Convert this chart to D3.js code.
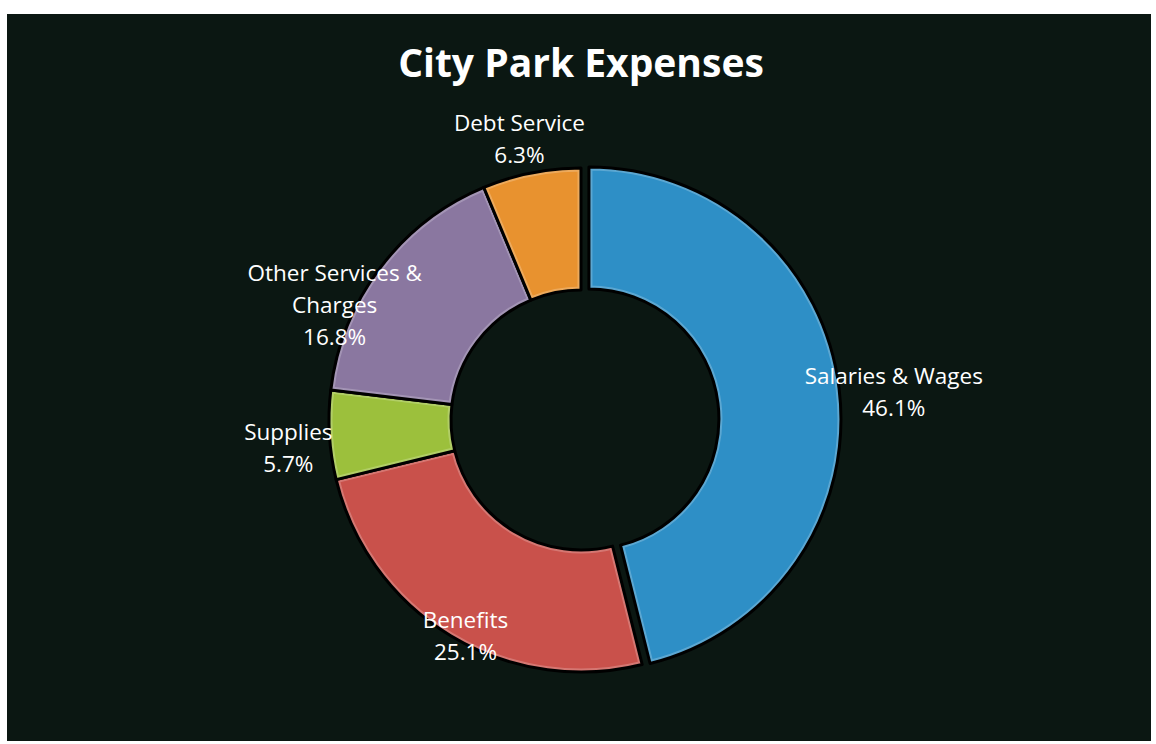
<!DOCTYPE html>
<html>
<head>
<meta charset="utf-8">
<script src="https://cdn.jsdelivr.net/npm/d3@7"></script>
<style>
  html, body { margin: 0; padding: 0; background: #ffffff; }
  svg { display: block; }
  text { font-family: "Open Sans", "Noto Sans", sans-serif; fill: #ffffff; }
</style>
</head>
<body>
<svg id="chart" width="1156" height="744"></svg>
<script>
// Chart data
const categories = ["Salaries & Wages", "Benefits", "Supplies", "Other Services & Charges", "Debt Service"];
const shares = [46.1, 25.1, 5.7, 16.8, 6.3];
const sliceColors = ["#2e8fc6", "#c9514b", "#9cc03c", "#8a77a0", "#e8922f"];
// label line breaks as they appear in the chart
const labelLines = [
  ["Salaries & Wages"],
  ["Benefits"],
  ["Supplies"],
  ["Other Services &", "Charges"],
  ["Debt Service"]
];

const width = 1156, height = 744;
const cx = 581, cy = 420;
const outerR = 252, innerR = 130;

const svg = d3.select("#chart");

// dark card background
svg.append("rect")
  .attr("x", 7).attr("y", 14)
  .attr("width", 1144).attr("height", 727)
  .attr("fill", "#0b1712");

// Title
svg.append("text")
  .attr("x", cx)
  .attr("y", 77)
  .attr("text-anchor", "middle")
  .style("font-size", "39px")
  .style("font-weight", "700")
  .text("City Park Expenses");

const pie = d3.pie().sort(null).value((d) => d.value);
const arcs = pie(categories.map((c, i) => ({ name: c, value: shares[i], i })));

const arc = d3.arc().innerRadius(innerR).outerRadius(outerR);

const g = svg.append("g").attr("transform", `translate(${cx},${cy})`);

// exploded first slice
function explode(d) {
  if (d.index !== 0) return [0, 0];
  const a = (d.startAngle + d.endAngle) / 2;
  return [Math.sin(a) * 8, -Math.cos(a) * 8];
}

const defs = svg.append("defs");

const slice = g.selectAll(".slice")
  .data(arcs)
  .join("g")
  .attr("class", "slice")
  .attr("transform", (d) => `translate(${explode(d)})`);

slice.each(function (d) {
  defs.append("clipPath")
    .attr("id", "clip" + d.index)
    .append("path")
    .attr("d", arc(d));
});

slice.append("path")
  .attr("d", arc)
  .attr("fill", (d) => sliceColors[d.index]);

// soft bevel highlight along the edges
slice.append("path")
  .attr("d", arc)
  .attr("fill", "none")
  .attr("stroke", "#ffffff")
  .attr("stroke-opacity", 0.22)
  .attr("stroke-width", 7)
  .attr("clip-path", (d) => `url(#clip${d.index})`);

// black separators
slice.append("path")
  .attr("d", arc)
  .attr("fill", "none")
  .attr("stroke", "#000000")
  .attr("stroke-width", 3)
  .attr("stroke-linejoin", "round");

// Label placement (Excel best fit approximation)
const labelRadius = [314, 245, 294, 272, 288];
const labelAngleShift = [2, -3, -2, -12, -1]; // degrees
const lineH = 32;

const labels = g.selectAll(".label")
  .data(arcs)
  .join("text")
  .attr("class", "label")
  .attr("text-anchor", "middle")
  .style("font-size", "22.5px")
  .attr("transform", (d) => {
    const a = (d.startAngle + d.endAngle) / 2 + labelAngleShift[d.index] * Math.PI / 180;
    const r = labelRadius[d.index];
    return `translate(${Math.sin(a) * r},${-Math.cos(a) * r})`;
  });

labels.each(function (d) {
  const lines = labelLines[d.index].concat([d3.format(".1f")(d.data.value) + "%"]);
  const t = d3.select(this);
  const offset = -((lines.length - 1) * lineH) / 2;
  lines.forEach((line, k) => {
    t.append("tspan")
      .attr("x", 0)
      .attr("y", offset + k * lineH)
      .attr("dy", "0.35em")
      .text(line);
  });
});
</script>
</body>
</html>
